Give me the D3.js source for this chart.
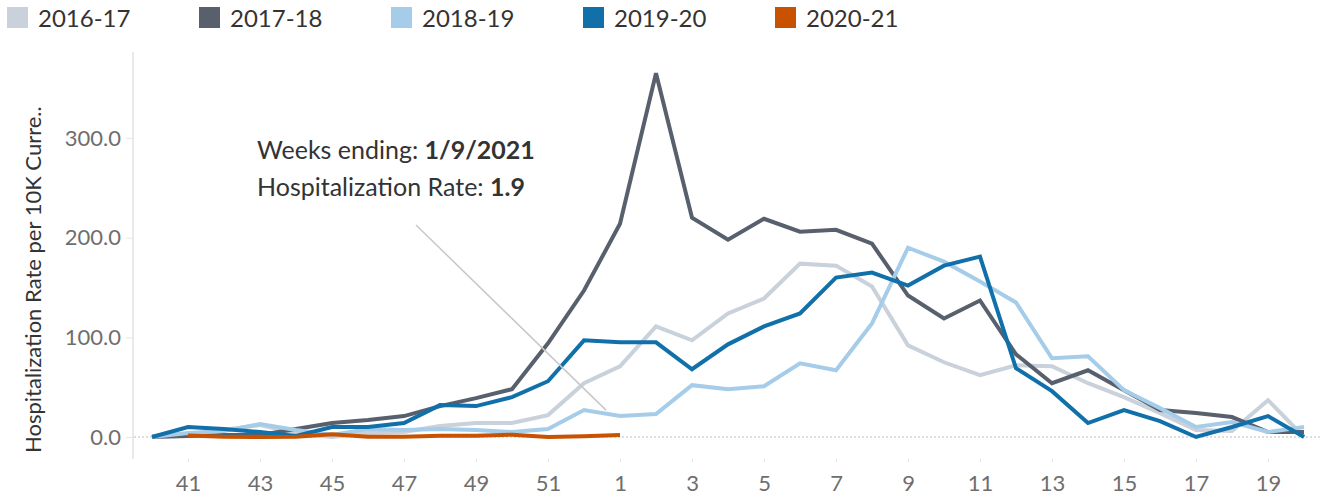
<!DOCTYPE html>
<html>
<head>
<meta charset="utf-8">
<script src="https://cdn.jsdelivr.net/npm/d3@7"></script>
<style>
  body { margin: 0; background: #fff; }
  svg { display: block; font-family: Lato, 'Open Sans', sans-serif; }
</style>
</head>
<body>
<script>
// weeks of the flu season (week 40 through week 20)
const weeks = ['40','41','42','43','44','45','46','47','48','49','50','51','52',
  '1','2','3','4','5','6','7','8','9','10','11','12','13','14','15','16','17','18','19','20']
const tickWeeks = ['41','43','45','47','49','51','1','3','5','7','9','11','13','15','17','19']
const yTicks = [0, 100, 200, 300]

const seasons = ['2016-17', '2017-18', '2018-19', '2019-20', '2020-21']
const colors = ['#c9d1db', '#58606d', '#a5cce8', '#1170aa', '#c85200']

const rate1617 = [1, 3, 7, 12, 4, 0, 4, 5, 11, 14, 14, 22, 54, 71, 111, 97, 124, 139, 174, 172, 151, 92, 75, 62, 72, 71, 54, 40, 24, 7, 6, 37, 0]
const rate1718 = [0, 1, 2, 2, 8, 14, 17, 21, 31, 39, 48, 94, 147, 214, 365, 220, 198, 219, 206, 208, 194, 142, 119, 137, 83, 54, 67, 47, 27, 24, 20, 5, 5]
const rate1819 = [0, 4, 6, 13, 7, 2, 8, 7, 8, 7, 5, 8, 27, 21, 23, 52, 48, 51, 74, 67, 114, 190, 176, 156, 135, 79, 81, 47, 29, 10, 15, 5, 10]
const rate1920 = [0, 10, 8, 5, 1, 10, 10, 14, 32, 31, 40, 56, 97, 95, 95, 68, 93, 111, 124, 160, 165, 152, 172, 181, 69, 46, 14, 27, 16, 0, 10, 21, 0]
const rate2021 = [null, 1.5, 0.2, 0.1, 0.2, 2.8, 0.3, 0.2, 1.2, 1.3, 2.3, 0.1, 0.8, 1.9]

const series = [rate1617, rate1718, rate1819, rate1920, rate2021]

const annoWeek = '1'
const annoDate = '1/9/2021'
const annoValue = 1.9

const width = 1320
const height = 497

const svg = d3.select('body').append('svg')
  .attr('width', width)
  .attr('height', height)

const x = d3.scalePoint().domain(weeks).range([152, 1304])
const y = d3.scaleLinear().domain([0, 300]).range([437, 138.1])

// legend
const legend = svg.append('g').attr('class', 'legend')
seasons.forEach((s, i) => {
  const g = legend.append('g').attr('transform', `translate(${7 + i * 192}, 7)`)
  g.append('rect').attr('width', 21).attr('height', 21).attr('fill', colors[i])
  g.append('text').attr('x', 31).attr('y', 20).attr('font-size', 24)
    .attr('fill', '#333').text(s)
})

// zero reference line
svg.append('line')
  .attr('x1', 134).attr('x2', width)
  .attr('y1', y(0)).attr('y2', y(0))
  .attr('stroke', '#bbb').attr('stroke-width', 1)
  .attr('stroke-dasharray', '2,2')

// y axis
const yAxis = d3.axisLeft(y).tickValues(yTicks).tickFormat(d3.format('.1f')).tickSize(7).tickPadding(5)
const gy = svg.append('g').attr('transform', 'translate(133,0)').call(yAxis)
gy.select('.domain').remove()
gy.append('line').attr('x1', 0).attr('x2', 0).attr('y1', 52).attr('y2', 459)
  .attr('stroke', '#d4d4d4').attr('stroke-width', 1)
gy.selectAll('.tick line').attr('stroke', '#e6e6e6')
gy.selectAll('.tick text').attr('font-size', 22).attr('fill', '#6e6e6e')
  .attr('font-family', 'Lato, sans-serif')

// x axis
const xAxis = d3.axisBottom(x).tickValues(tickWeeks).tickSize(3).tickPadding(13)
const gx = svg.append('g').attr('transform', 'translate(0,459)').call(xAxis)
gx.select('.domain').remove()
gx.selectAll('.tick line').attr('stroke', '#e6e6e6')
gx.selectAll('.tick text').attr('font-size', 22).attr('fill', '#6e6e6e')
  .attr('font-family', 'Lato, sans-serif')

// y axis title
svg.append('text')
  .attr('transform', 'translate(41,453) rotate(-90)')
  .attr('font-size', 22).attr('fill', '#333')
  .text('Hospitalization Rate per 10K Curre..')

// lines
const line = d3.line()
  .defined(d => d != null)
  .x((d, i) => x(weeks[i]))
  .y(d => y(d))

svg.append('g').selectAll('path')
  .data(series)
  .join('path')
    .attr('d', d => line(d))
    .attr('fill', 'none')
    .attr('stroke', (d, i) => colors[i])
    .attr('stroke-width', 4)
    .attr('stroke-linejoin', 'miter')

// annotation
const px = x(annoWeek), py = y(annoValue)
svg.append('line')
  .attr('x1', 416).attr('y1', 225)
  .attr('x2', px - 14).attr('y2', py - 25)
  .attr('stroke', '#c8c8c8').attr('stroke-width', 1.5)

const anno = svg.append('text').attr('font-size', 25).attr('fill', '#333')
const l1 = anno.append('tspan').attr('x', 257).attr('y', 159)
l1.append('tspan').text('Weeks ending: ')
l1.append('tspan').attr('font-weight', 'bold').text(annoDate)
const l2 = anno.append('tspan').attr('x', 257).attr('y', 196)
l2.append('tspan').text('Hospitalization Rate: ')
l2.append('tspan').attr('font-weight', 'bold').text(annoValue.toFixed(1))
</script>
</body>
</html>
